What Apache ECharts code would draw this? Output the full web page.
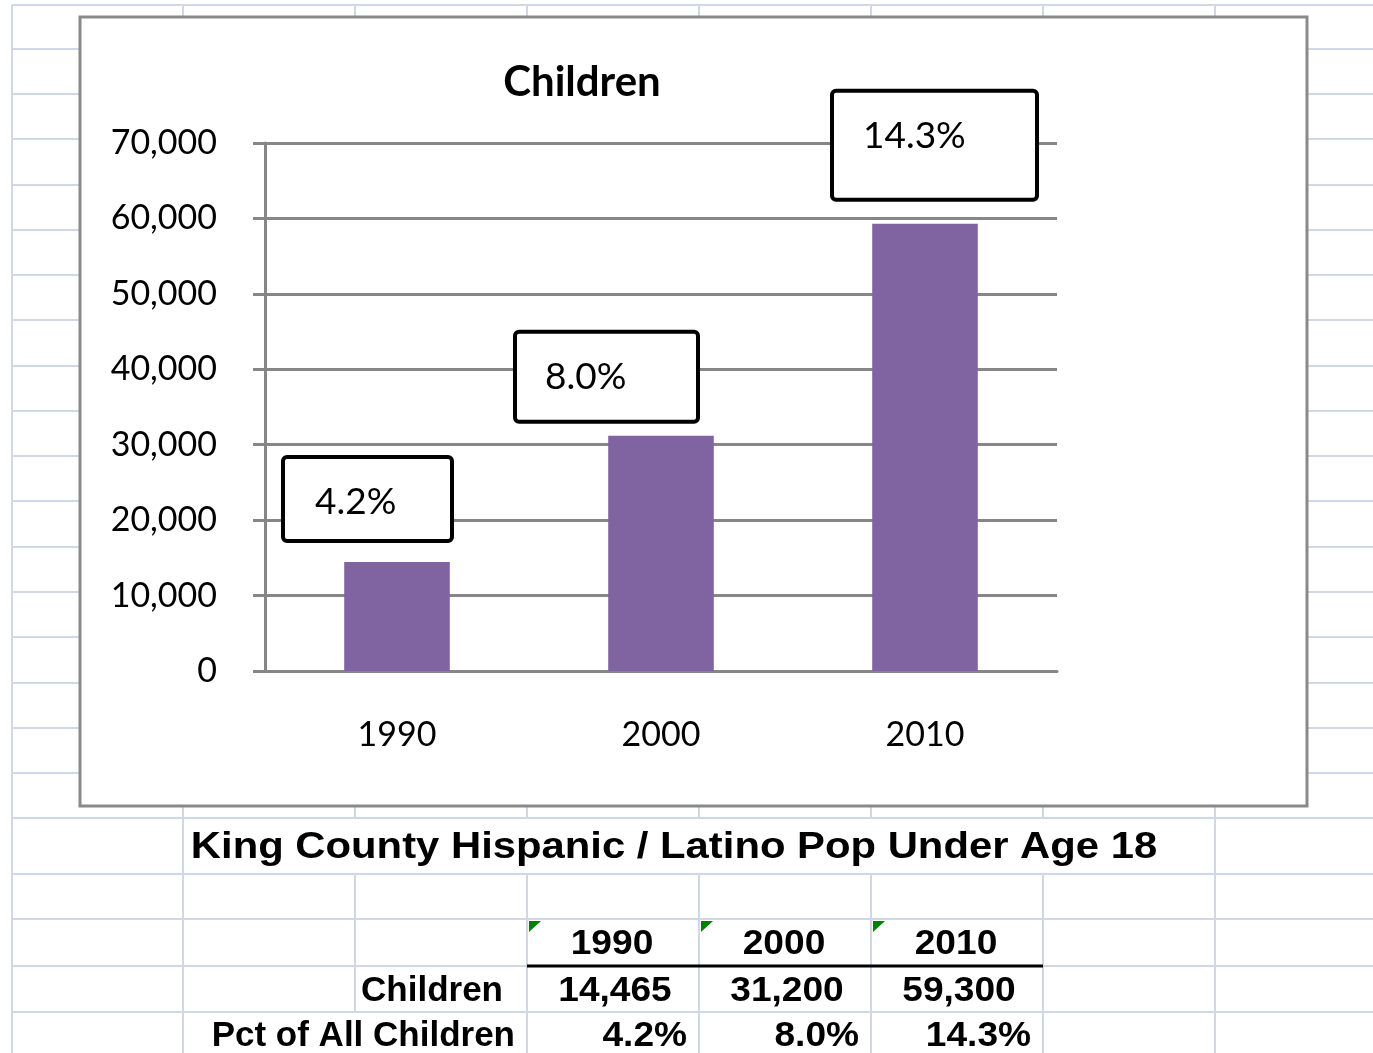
<!DOCTYPE html>
<html>
<head>
<meta charset="utf-8">
<script src="https://cdn.jsdelivr.net/npm/echarts@6/dist/echarts.min.js"></script>
<style>
  html, body { margin: 0; padding: 0; background: #fff; }
  #main { width: 1373px; height: 1053px; }
</style>
</head>
<body>
<div id="main"></div>
<script>
// data
var years = ['1990', '2000', '2010'];
var children = [14465, 31200, 59300];
var pctOfAll = ['4.2%', '8.0%', '14.3%'];
var rowNames = ['Children', 'Pct of All Children'];
var tableTitle = 'King County Hispanic / Latino Pop Under Age 18';

// the label boxes were resized by hand in the sheet
var boxes = [
    {dx: -112, dy: -23, w: 135, padL: 30, padB: 19},
    {dx: -144, dy: -16, w: 151, padL: 28, padB: 25},
    {dx: -91,  dy: -26, w: 172, padL: 29, padB: 44}
];

// sheet grid
var colX = [12, 183, 355, 527, 699, 871, 1043, 1215];
var rowY = [5, 49, 94, 139, 185, 230, 275, 320, 366, 411, 456, 501, 547, 592, 637, 683, 728, 773, 818, 874, 919, 966, 1012];
var sheetLine = '#D0D7E5';
var axisGray = '#868686';
var cellFont = 'bold 35px "Liberation Sans", Arial, sans-serif';

var fmt = function (v) { return v.toLocaleString('en-US'); };

var graphics = [];
rowY.forEach(function (y) {
    graphics.push({type: 'line', z: -20, shape: {x1: 12, y1: y, x2: 1373, y2: y}, style: {stroke: sheetLine, lineWidth: 2}});
});
colX.forEach(function (x) {
    var segs = [[5, 818], [874, 1012]];
    if (x === 12 || x === 183 || x === 1215) segs.push([818, 874]);
    if (x !== 355) segs.push([1012, 1053]);
    segs.forEach(function (s) {
        graphics.push({type: 'line', z: -20, shape: {x1: x, y1: s[0], x2: x, y2: s[1]}, style: {stroke: sheetLine, lineWidth: 2}});
    });
});
// chart box
graphics.push({type: 'rect', z: -10, shape: {x: 80, y: 17, width: 1227, height: 789},
    style: {fill: '#fff', stroke: '#8a8a8a', lineWidth: 3}});

function cell(x, y, text, align, sx) {
    return {type: 'text', x: x, y: y, scaleX: sx,
        style: {text: text, font: cellFont, fill: '#000', align: align, verticalAlign: 'middle'}};
}

// table under the chart
graphics.push({type: 'text', x: 674, y: 848, scaleX: 1.13,
    style: {text: tableTitle, font: 'bold 37px "Liberation Sans", Arial, sans-serif', fill: '#000', align: 'center', verticalAlign: 'middle'}});
graphics.push({type: 'line', shape: {x1: 527, y1: 966, x2: 1043, y2: 966}, style: {stroke: '#000', lineWidth: 3}});
years.forEach(function (yr, i) {
    var cx = 527 + i * 172;
    graphics.push({type: 'polygon', shape: {points: [[cx + 2, 921], [cx + 14, 921], [cx + 2, 932]]}, style: {fill: '#008000'}});
    graphics.push(cell(cx + 85, 944, yr, 'center', 1.06));
    graphics.push(cell(cx + 88, 991, fmt(children[i]), 'center', 1.06));
    graphics.push(cell(cx + 160, 1036, pctOfAll[i], 'right', 1.06));
});
graphics.push(cell(503, 991, rowNames[0], 'right', 1));
graphics.push(cell(515, 1036, rowNames[1], 'right', 1));

var myChart = echarts.init(document.getElementById('main'));
var option = {
    animation: false,
    backgroundColor: '#fff',
    title: {
        text: 'Children',
        left: 582,
        top: 61,
        textAlign: 'center',
        padding: 0,
        textStyle: {fontSize: 42, fontWeight: 'bold', fontFamily: 'Lato', color: '#000'}
    },
    grid: {left: 265, right: 316, top: 143, bottom: 382},
    xAxis: {
        type: 'category',
        data: years,
        axisLine: {lineStyle: {color: axisGray, width: 3}},
        axisTick: {length: 13, lineStyle: {color: axisGray, width: 3}},
        axisLabel: {margin: 47, fontSize: 34, fontFamily: 'Lato', color: '#000'}
    },
    yAxis: {
        type: 'value',
        min: 0,
        max: 70000,
        interval: 10000,
        axisLine: {show: true, lineStyle: {color: axisGray, width: 3}},
        axisTick: {show: true, length: 12, lineStyle: {color: axisGray, width: 3}},
        splitLine: {lineStyle: {color: axisGray, width: 3}},
        axisLabel: {margin: 48, fontSize: 34, fontFamily: 'Lato', color: '#000', formatter: fmt,
            padding: [4, 0, 0, 0]}
    },
    graphic: {elements: graphics},
    series: [{
        name: 'Children',
        type: 'bar',
        barWidth: '40%',
        itemStyle: {color: '#8064A2'},
        data: children.map(function (v, i) {
            var b = boxes[i];
            return {
                value: v,
                label: {
                    offset: [b.dx, b.dy],
                    width: b.w,
                    padding: [25, 0, b.padB, b.padL]
                }
            };
        }),
        label: {
            show: true,
            position: 'top',
            distance: 0,
            align: 'left',
            verticalAlign: 'bottom',
            formatter: function (p) { return pctOfAll[p.dataIndex]; },
            fontSize: 37,
            fontFamily: 'Lato',
            color: '#000',
            lineHeight: 36,
            backgroundColor: '#fff',
            borderColor: '#000',
            borderWidth: 4,
            borderRadius: 2
        }
    }]
};
myChart.setOption(option);
</script>
</body>
</html>
